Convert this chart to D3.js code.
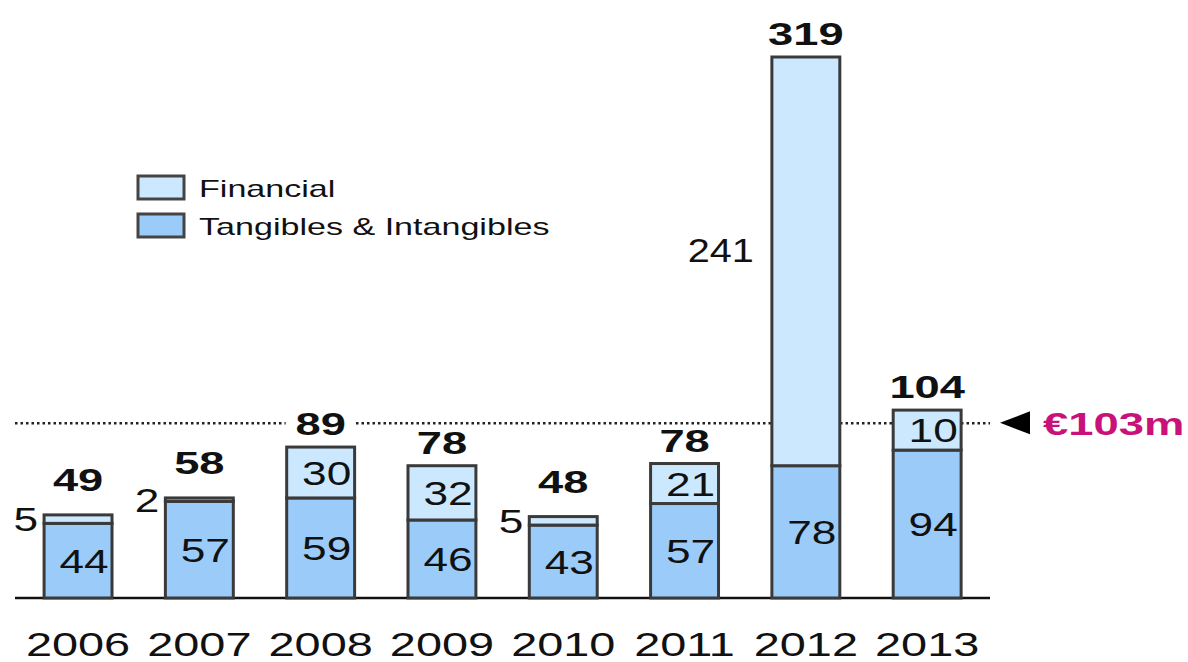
<!DOCTYPE html>
<html>
<head>
<meta charset="utf-8">
<script src="https://cdn.jsdelivr.net/npm/d3@7"></script>
<style>
  html, body { margin: 0; padding: 0; background: #fff; }
  svg { display: block; }
</style>
</head>
<body>
<div id="viz"></div>
<script>
// data (EUR m)
var years = ["2006", "2007", "2008", "2009", "2010", "2011", "2012", "2013"];
var tangibles = [44, 57, 59, 46, 43, 57, 78, 94];
var financial = [5, 2, 30, 32, 5, 21, 241, 10];
var totals = [49, 58, 89, 78, 48, 78, 319, 104];
var target = 103;
var targetLabel = "\u20ac103m";
var seriesNames = ["Financial", "Tangibles & Intangibles"];

// layout
var width = 1188, height = 662;
var baseY = 598, topY = 57;
var sx = 1.3; // the source picture is stretched sideways
var font = "'Liberation Sans', Arial, sans-serif";
var colFin = "#cce8fe", colTan = "#9bcbf8", edge = "#3a3a3a";
var minBox = 40; // a labelled segment is never drawn thinner than this

var svg = d3.select("#viz").append("svg")
  .attr("width", width)
  .attr("height", height);

var x = d3.scaleBand()
  .domain(years)
  .range([17.4, 17.4 + 8 * 121.3])
  .paddingInner(0.44)
  .paddingOuter(0.22);

var y = d3.scaleLinear()
  .domain([0, d3.max(totals)])
  .range([baseY, topY]);

var rows = years.map(function(yr, i) {
  var d = { year: yr, tan: tangibles[i], fin: financial[i], total: totals[i] };
  d.outside = d.fin < 8 || d.fin > 200;
  // pixel extents of the two segments
  d.finTop = y(d.tan + d.fin);
  d.finBot = y(d.tan);
  if (!d.outside && d.finBot - d.finTop < minBox) {
    var mid = (d.finTop + d.finBot) / 2;
    d.finTop = mid - minBox / 2;
    d.finBot = mid + minBox / 2;
  }
  return d;
});

// stretched text helper
function label(g, txt, px, py, opts) {
  opts = opts || {};
  return g.append("text")
    .attr("transform", "translate(" + px + "," + py + ") scale(" + (opts.sx || sx) + ",1)")
    .attr("text-anchor", opts.anchor || "middle")
    .attr("font-family", font)
    .attr("font-size", (opts.size || 34) + "px")
    .attr("font-weight", opts.bold ? "bold" : "normal")
    .attr("fill", opts.fill || "#111")
    .text(txt);
}

// target dotted line
var lineG = svg.append("g");
lineG.append("line")
  .attr("x1", 15).attr("x2", 990)
  .attr("y1", y(target)).attr("y2", y(target))
  .attr("stroke", "#222")
  .attr("stroke-width", 2.5)
  .attr("stroke-dasharray", "2.5,3");

// totals (white box hides the dotted line behind them)
var totG = svg.append("g");
rows.forEach(function(d) {
  var cx = x(d.year) + x.bandwidth() / 2;
  var small = d.fin < 8;
  var by = d.finTop - (small ? 24 : 12);
  totG.append("rect")
    .attr("x", cx - 35).attr("y", by - 26)
    .attr("width", 70).attr("height", 30)
    .attr("fill", "#fff");
  label(totG, d.total, cx, by, { size: 31, bold: true, sx: 1.46 });
});

// axis baseline
svg.append("line")
  .attr("x1", 15).attr("x2", 990)
  .attr("y1", baseY).attr("y2", baseY)
  .attr("stroke", "#111")
  .attr("stroke-width", 2.5);

// bars
var bars = svg.append("g");
rows.forEach(function(d) {
  var bx = x(d.year), bw = x.bandwidth();
  bars.append("rect")
    .attr("x", bx).attr("width", bw)
    .attr("y", d.finBot).attr("height", baseY - d.finBot)
    .attr("fill", colTan)
    .attr("stroke", edge).attr("stroke-width", 3);
  bars.append("rect")
    .attr("x", bx).attr("width", bw)
    .attr("y", d.finTop).attr("height", d.finBot - d.finTop)
    .attr("fill", colFin)
    .attr("stroke", edge).attr("stroke-width", 3);
});

// segment labels
var segG = svg.append("g");
rows.forEach(function(d) {
  var bx = x(d.year), cx = bx + x.bandwidth() / 2;
  var tanMid = (baseY + d.finBot) / 2;
  var finMid = (d.finTop + d.finBot) / 2;
  label(segG, d.tan, cx + 6, tanMid + 12, { size: 34 });
  if (d.fin < 8) {
    label(segG, d.fin, bx - 6, finMid + 12, { size: 34, anchor: "end" });
  } else if (d.outside) {
    label(segG, d.fin, bx - 18, finMid + 1, { size: 33, anchor: "end", sx: 1.2 });
  } else {
    label(segG, d.fin, cx + 6, finMid + 12, { size: 34 });
  }
});

// year labels
var xAxis = svg.append("g");
years.forEach(function(yr) {
  label(xAxis, yr, x(yr) + x.bandwidth() / 2, 656, { size: 33, sx: 1.42 });
});

// target marker
var ty = y(target);
svg.append("path")
  .attr("d", "M1000," + (ty - 0.5) + "L1030," + (ty - 12) + "L1030," + (ty + 11) + "Z")
  .attr("fill", "#000");
label(svg, targetLabel, 1043, ty + 12, { size: 32, bold: true, anchor: "start", fill: "#c8127a", sx: 1.42 });

// legend
var legend = svg.append("g");
[colFin, colTan].forEach(function(c, i) {
  legend.append("rect")
    .attr("x", 138).attr("y", 176 + i * 38)
    .attr("width", 46).attr("height", 23)
    .attr("fill", c)
    .attr("stroke", "#444").attr("stroke-width", 3);
  label(legend, seriesNames[i], 199, 197 + i * 38, { size: 24, anchor: "start", sx: 1.42 });
});
</script>
</body>
</html>
